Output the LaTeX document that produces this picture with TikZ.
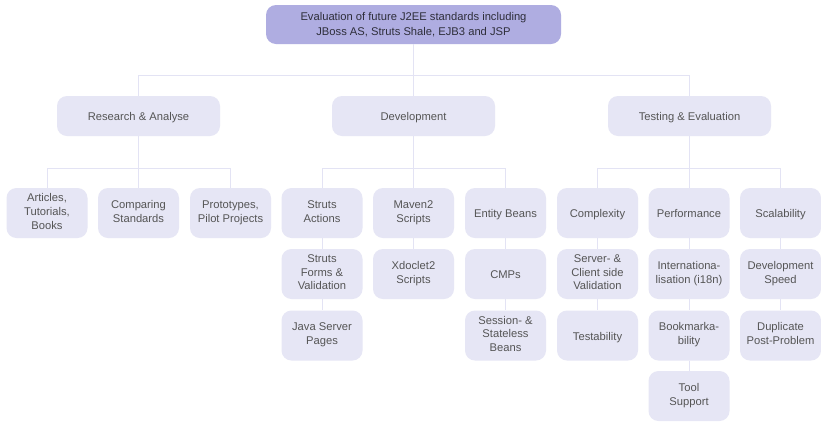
\documentclass[tikz,border=0pt]{standalone}
\usepackage{fontspec}
\setmainfont{Liberation Sans}
\begin{document}
\begin{tikzpicture}[x=1pt,y=-1pt,
  box/.style={draw=none,fill=boxfill,rounded corners=10pt,align=center,inner sep=0pt,
    minimum width=81pt,minimum height=50pt,text=boxtext,font=\fontsize{11.2}{13.8}\selectfont,
    execute at begin node={\rule{0pt}{13pt}},execute at end node={\rule[-3.5pt]{0pt}{1pt}}},
  lvl/.style={box,minimum width=163pt,minimum height=40pt},
  rootbox/.style={draw=none,fill=rootfill,rounded corners=10pt,align=center,inner sep=0pt,
    text=roottext,minimum width=295pt,minimum height=39pt,
    font=\fontsize{11.2}{15}\selectfont,execute at begin node={\rule{0pt}{17pt}}},
  conn/.style={draw=linecol,line width=1pt}]
\definecolor{boxfill}{HTML}{E6E6F5}
\definecolor{rootfill}{HTML}{AFADE1}
\definecolor{boxtext}{HTML}{555555}
\definecolor{roottext}{HTML}{2E2E3A}
\definecolor{linecol}{HTML}{E3E3F4}
\useasboundingbox[fill=white] (0,0) rectangle (821,421);

\node[rootbox] (root) at (413.5,24.5) {Evaluation of future J2EE standards including\\JBoss AS, Struts Shale, EJB3 and JSP};

\node[lvl] (ra) at (138.5,116) {Research \& Analyse};
\node[lvl] (dev) at (413.5,116) {Development};
\node[lvl] (te) at (689.5,116) {Testing \& Evaluation};

\node[box] (art) at (47,213) {Articles,\\Tutorials,\\Books};
\node[box] (cmp) at (138.5,213) {Comparing\\Standards};
\node[box] (pro) at (230.5,213) {Prototypes,\\Pilot Projects};

\node[box] (sa) at (322,213) {Struts\\Actions};
\node[box] (sf) at (322,274) {Struts\\Forms \&\\Validation};
\node[box] (jsp) at (322,335.5) {Java Server\\Pages};
\node[box] (mv) at (413.5,213) {Maven2\\Scripts};
\node[box] (xd) at (413.5,274) {Xdoclet2\\Scripts};
\node[box] (eb) at (505.5,213) {Entity Beans};
\node[box] (cm) at (505.5,274) {CMPs};
\node[box] (ss) at (505.5,335.5) {Session- \&\\Stateless\\Beans};

\node[box] (cx) at (597.5,213) {Complexity};
\node[box] (scv) at (597.5,274) {Server- \&\\Client side\\Validation};
\node[box] (tb) at (597.5,335.5) {Testability};
\node[box] (pf) at (689,213) {Performance};
\node[box] (i18) at (689,274) {Internationa-\\lisation (i18n)};
\node[box] (bm) at (689,335.5) {Bookmarka-\\bility};
\node[box] (ts) at (689,396) {Tool\\Support};
\node[box] (sc) at (780.5,213) {Scalability};
\node[box] (ds) at (780.5,274) {Development\\Speed};
\node[box] (dp) at (780.5,335.5) {Duplicate\\Post-Problem};

% root to level 1
\foreach \c in {ra,dev,te} \draw[conn] (root.south) -- ++(0,31) -| (\c.north);
% level 1 to level 2
\foreach \c in {art,cmp,pro} \draw[conn] (ra.south) -- ++(0,32) -| (\c.north);
\foreach \c in {sa,mv,eb} \draw[conn] (dev.south) -- ++(0,32) -| (\c.north);
\foreach \c in {cx,pf,sc} \draw[conn] (te.south) -- ++(0,32) -| (\c.north);
% stacks
\draw[conn] (sa) -- (sf); \draw[conn] (sf) -- (jsp);
\draw[conn] (mv) -- (xd);
\draw[conn] (eb) -- (cm); \draw[conn] (cm) -- (ss);
\draw[conn] (cx) -- (scv); \draw[conn] (scv) -- (tb);
\draw[conn] (pf) -- (i18); \draw[conn] (i18) -- (bm); \draw[conn] (bm) -- (ts);
\draw[conn] (sc) -- (ds); \draw[conn] (ds) -- (dp);
\end{tikzpicture}
\end{document}
